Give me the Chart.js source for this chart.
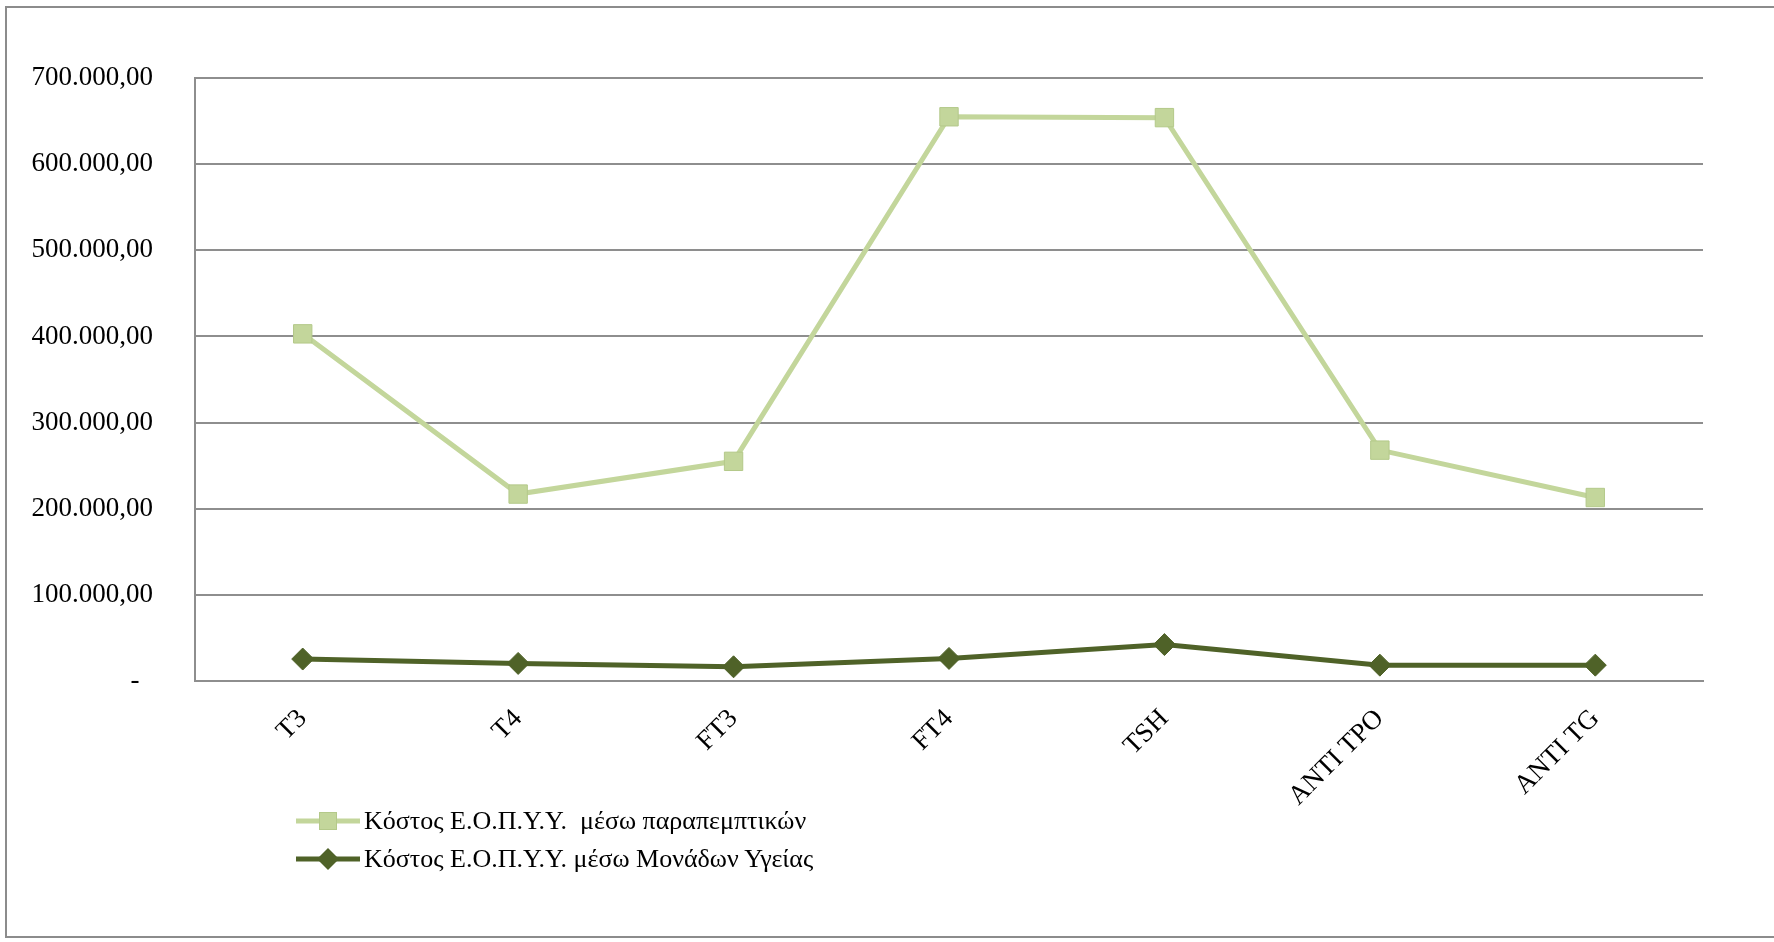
<!DOCTYPE html>
<html>
<head>
<meta charset="utf-8">
<script src="https://cdn.jsdelivr.net/npm/chart.js@4.4.1/dist/chart.umd.min.js"></script>
<style>
  html, body { margin: 0; padding: 0; background: #fff; }
  #wrap { position: relative; width: 1774px; height: 942px; overflow: hidden; }
  #frame { position: absolute; left: 5px; top: 6px; width: 1800px; height: 932px; border: 2px solid #8c8c8c; box-sizing: border-box; }
  #myChart { position: absolute; left: 0; top: 0; }
  #legend { position: absolute; left: 296px; top: 802px; font-family: "Liberation Serif", "Times New Roman", serif; font-size: 26px; color: #000; }
  .row { display: flex; align-items: center; height: 38px; white-space: pre; }
  .row canvas { margin-right: 4px; }
</style>
</head>
<body>
<div id="wrap">
  <div id="frame"></div>
  <canvas id="myChart" width="1774" height="942"></canvas>
  <div id="legend"></div>
</div>
<script>
// κατηγορίες (εξετάσεις)
const categories = ['T3', 'T4', 'FT3', 'FT4', 'TSH', 'ANTI TPO', 'ANTI TG'];
// κόστος μέσω παραπεμπτικών
const referralCost = [403000, 217000, 255000, 655000, 654000, 268000, 213000];
// κόστος μέσω Μονάδων Υγείας
const unitCost = [25500, 20400, 16500, 26200, 42300, 18400, 18400];
const seriesNames = ['Κόστος Ε.Ο.Π.Υ.Υ.  μέσω παραπεμπτικών', 'Κόστος Ε.Ο.Π.Υ.Υ. μέσω Μονάδων Υγείας'];
const yMin = 0, yMax = 700000, yStep = 100000;

const LIGHT = '#C3D69B';
const LIGHT_EDGE = '#B4C98A';
const DARK = '#4F6228';
const GRID = '#8E8E8E';
const FONT = '"Liberation Serif", "Times New Roman", serif';

// 700.000,00 μορφή
function fmt(v) {
  if (v === 0) return '-  ';
  return Math.round(v).toString().replace(/\B(?=(\d{3})+(?!\d))/g, '.') + ',00';
}

const ctx = document.getElementById('myChart').getContext('2d');
const myChart = new Chart(ctx, {
  type: 'line',
  data: {
    labels: categories,
    datasets: [{
      label: seriesNames[0],
      data: referralCost,
      borderColor: LIGHT,
      borderWidth: 5,
      pointStyle: 'rect',
      pointRadius: 13,
      pointBackgroundColor: LIGHT,
      pointBorderColor: LIGHT_EDGE,
      pointBorderWidth: 1,
      tension: 0
    }, {
      label: seriesNames[1],
      data: unitCost,
      borderColor: DARK,
      borderWidth: 5,
      pointStyle: 'rectRot',
      pointRadius: 11,
      pointBackgroundColor: DARK,
      pointBorderColor: DARK,
      pointBorderWidth: 1,
      tension: 0
    }]
  },
  options: {
    responsive: false,
    animation: false,
    layout: { padding: { left: 0, top: 78, right: 71, bottom: 0 } },
    plugins: {
      legend: { display: false },
      tooltip: { enabled: false }
    },
    scales: {
      x: {
        offset: true,
        grid: { display: false, drawTicks: false },
        border: { display: true, color: GRID, width: 2 },
        ticks: {
          autoSkip: false,
          minRotation: 45,
          maxRotation: 45,
          padding: 22,
          color: '#000',
          font: { family: FONT, size: 27 }
        },
        afterFit: (scale) => { scale.height = 261; }
      },
      y: {
        min: yMin,
        max: yMax,
        grid: { color: GRID, lineWidth: 2, drawTicks: false },
        border: { display: true, color: GRID, width: 2 },
        ticks: {
          stepSize: yStep,
          padding: 42,
          color: '#000',
          font: { family: FONT, size: 27 },
          callback: (v) => fmt(v)
        },
        afterFit: (scale) => { scale.width = 195; }
      }
    }
  }
});

// υπόμνημα με γραμμή και δείκτη
const legend = document.getElementById('legend');
myChart.data.datasets.forEach((ds) => {
  const row = document.createElement('div');
  row.className = 'row';
  const ic = document.createElement('canvas');
  ic.width = 64; ic.height = 38;
  const g = ic.getContext('2d');
  g.strokeStyle = ds.borderColor;
  g.lineWidth = 5;
  g.beginPath(); g.moveTo(0, 19); g.lineTo(64, 19); g.stroke();
  g.fillStyle = ds.pointBackgroundColor;
  if (ds.pointStyle === 'rect') {
    g.fillRect(23, 10, 18, 18);
    g.strokeStyle = ds.pointBorderColor; g.lineWidth = 1;
    g.strokeRect(23.5, 10.5, 17, 17);
  } else {
    g.beginPath(); g.moveTo(21, 19); g.lineTo(32, 8); g.lineTo(43, 19); g.lineTo(32, 30); g.closePath(); g.fill();
  }
  const t = document.createElement('span');
  t.textContent = ds.label;
  row.appendChild(ic);
  row.appendChild(t);
  legend.appendChild(row);
});
</script>
</body>
</html>
